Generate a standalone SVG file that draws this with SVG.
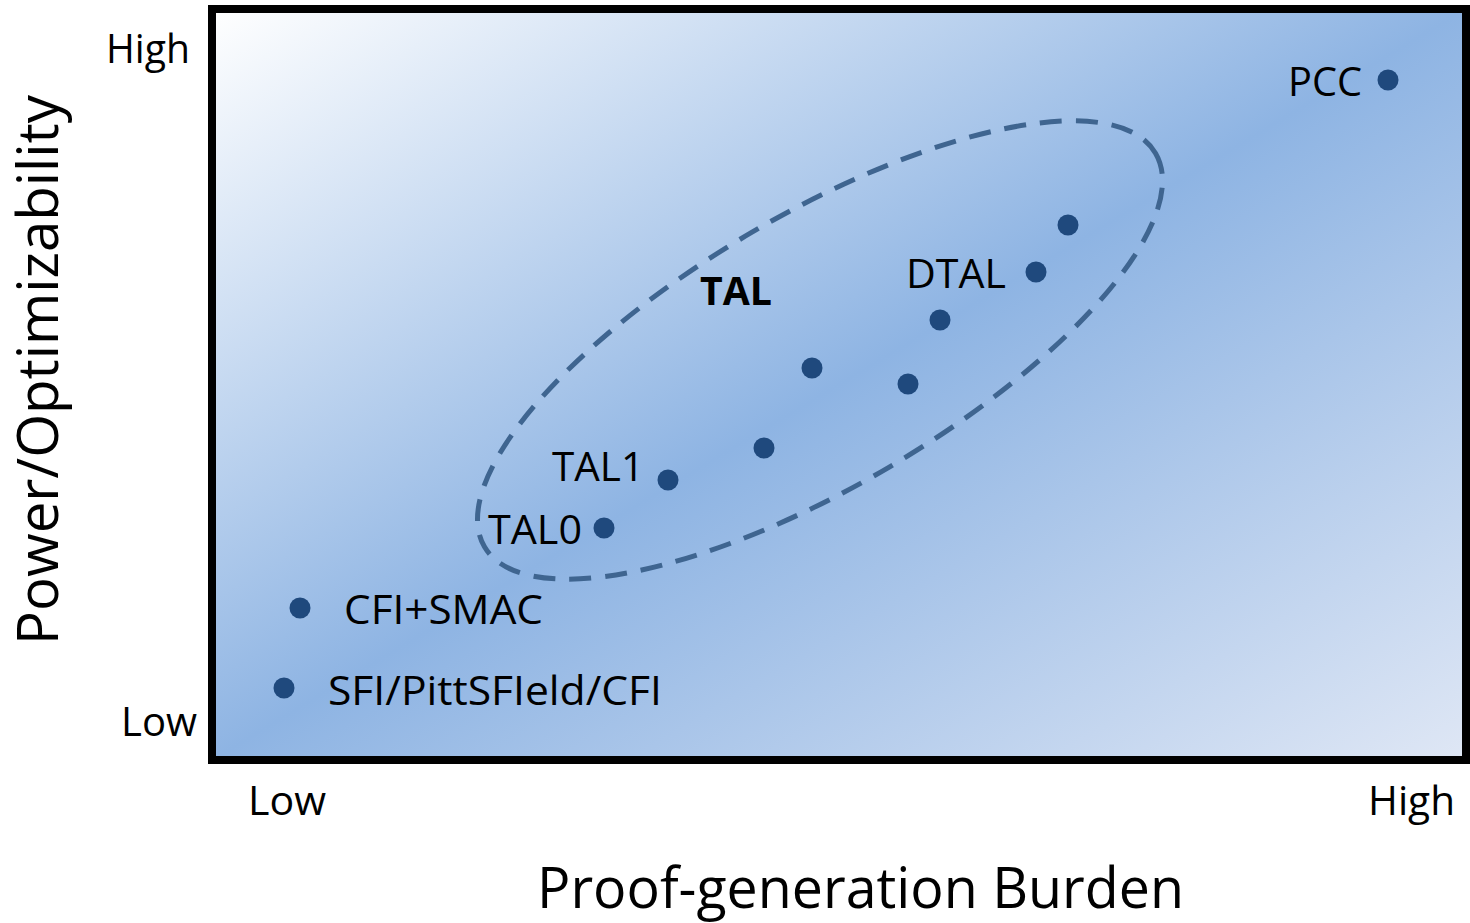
<svg xmlns="http://www.w3.org/2000/svg" width="1470" height="923" viewBox="0 0 1470 923">
  <defs>
    <linearGradient id="bg" x1="0" y1="0" x2="1" y2="1">
      <stop offset="0" stop-color="#ffffff"/>
      <stop offset="0.5" stop-color="#8eb4e3"/>
      <stop offset="1" stop-color="#dfe7f5"/>
    </linearGradient>
  </defs>
  <style>
    text { font-family: "Open Sans", "Liberation Sans", sans-serif; fill: #000; }
    .lbl { font-size: 40px; }
    .axis { font-size: 56px; }
    .bold { font-weight: bold; }
    .dot { fill: #1f497d; }
    .group-outline { fill: none; stroke: #3f6590; stroke-width: 5; stroke-dasharray: 22 14; }
  </style>

  <!-- plot area -->
  <rect x="212" y="9" width="1254" height="751" fill="url(#bg)" stroke="#000" stroke-width="8"/>

  <!-- axis tick labels -->
  <text class="lbl" x="106" y="63" textLength="84" lengthAdjust="spacingAndGlyphs">High</text>
  <text class="lbl" x="121" y="736" textLength="76" lengthAdjust="spacingAndGlyphs">Low</text>
  <text class="lbl" x="248" y="815" textLength="78" lengthAdjust="spacingAndGlyphs">Low</text>
  <text class="lbl" x="1368" y="815" textLength="87" lengthAdjust="spacingAndGlyphs">High</text>

  <!-- axis titles -->
  <text class="axis" transform="translate(58 645) rotate(-90)" textLength="550" lengthAdjust="spacingAndGlyphs">Power/Optimizability</text>
  <text class="axis" x="537" y="908" textLength="647" lengthAdjust="spacingAndGlyphs">Proof-generation Burden</text>

  <!-- typed assembly language family -->
  <g id="tal-group">
    <ellipse cx="820" cy="350" rx="389" ry="136" transform="rotate(-30.4 820 350)" class="group-outline"/>
    <text class="lbl bold" x="700" y="305" textLength="72" lengthAdjust="spacingAndGlyphs">TAL</text>
  </g>

  <g id="pcc">
    <circle class="dot" cx="1388" cy="80" r="10.5"/>
    <text class="lbl" x="1288" y="96" textLength="74" lengthAdjust="spacingAndGlyphs">PCC</text>
  </g>
  <g id="tal-top">
    <circle class="dot" cx="1068" cy="225" r="10.5"/>
  </g>
  <g id="dtal">
    <circle class="dot" cx="1036" cy="272" r="10.5"/>
    <text class="lbl" x="906" y="288" textLength="100" lengthAdjust="spacingAndGlyphs">DTAL</text>
  </g>
  <g id="tal-a">
    <circle class="dot" cx="940" cy="320" r="10.5"/>
  </g>
  <g id="tal-b">
    <circle class="dot" cx="812" cy="368" r="10.5"/>
  </g>
  <g id="tal-c">
    <circle class="dot" cx="908" cy="384" r="10.5"/>
  </g>
  <g id="tal-d">
    <circle class="dot" cx="764" cy="448" r="10.5"/>
  </g>
  <g id="tal1">
    <circle class="dot" cx="668" cy="480" r="10.5"/>
    <text class="lbl" x="552" y="481" textLength="92" lengthAdjust="spacingAndGlyphs">TAL1</text>
  </g>
  <g id="tal0">
    <circle class="dot" cx="604" cy="528" r="10.5"/>
    <text class="lbl" x="488" y="544" textLength="94" lengthAdjust="spacingAndGlyphs">TAL0</text>
  </g>
  <g id="cfi-smac">
    <circle class="dot" cx="300" cy="608" r="10.5"/>
    <text class="lbl" x="344" y="624" textLength="199" lengthAdjust="spacingAndGlyphs">CFI+SMAC</text>
  </g>
  <g id="sfi">
    <circle class="dot" cx="284" cy="688" r="10.5"/>
    <text class="lbl" x="328" y="705" textLength="334" lengthAdjust="spacingAndGlyphs">SFI/PittSFIeld/CFI</text>
  </g>

  <!-- no connectors in this chart -->
  <g id="connectors"/>
</svg>
